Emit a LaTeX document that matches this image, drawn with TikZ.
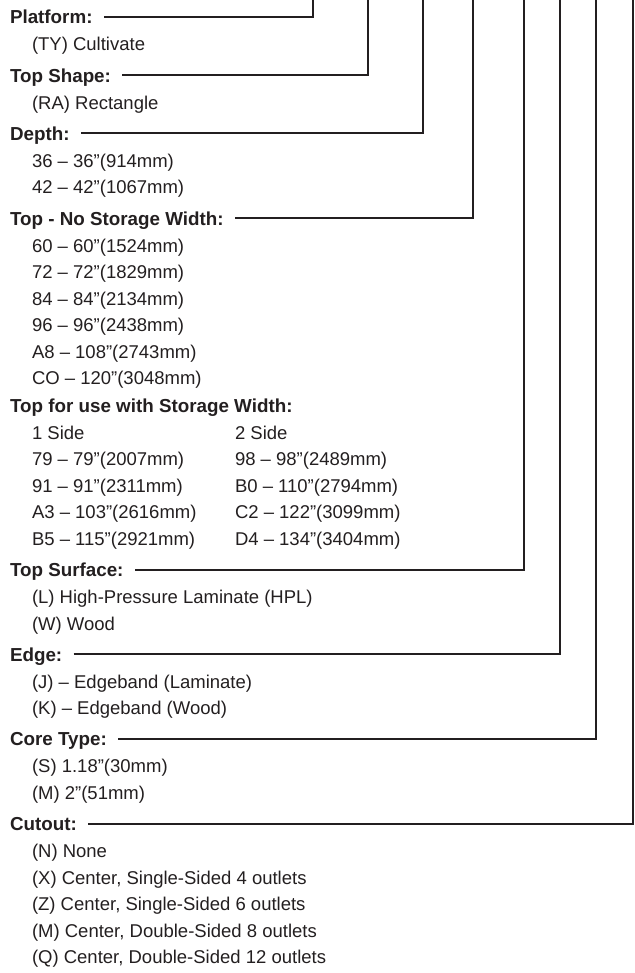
\documentclass[tikz,border=0pt]{standalone}
\usepackage{fontspec}
\setmainfont{Liberation Sans}
\usepackage{xcolor}
\usetikzlibrary{positioning}
\definecolor{ink}{HTML}{231F20}

\begin{document}
\begin{tikzpicture}[
  x=1pt, y=1pt,
  every node/.style={inner sep=0pt, outer sep=0pt, text=ink},
  hdr/.style={font=\fontsize{18.8}{20}\selectfont\bfseries, text height=14pt, text depth=0pt},
  sect/.style={hdr, below right=13.2pt and -22pt of #1.south west},
  opt/.style={font=\fontsize{18.5}{20}\selectfont, text height=13pt, text depth=4pt},
  optA/.style={opt, below right=14pt and 22pt of #1.south west},
  optB/.style={opt, below right=9.5pt and 0pt of #1.south west},
  lead/.style={draw=ink, line width=2pt, shorten <=11.5pt}
]
  \useasboundingbox (0,0) rectangle (634,-973);
  % tops of the leader lines
  \coordinate (topPlat)  at (313,0);
  \coordinate (topShape) at (368,0);
  \coordinate (topDepth) at (423,0);
  \coordinate (topWidth) at (473,0);
  \coordinate (topSurf)  at (524,0);
  \coordinate (topEdge)  at (560,0);
  \coordinate (topCore)  at (596,0);
  \coordinate (topCut)   at (632.5,0);
  % Sections
  \node[hdr, anchor=north west] (plat) at (10,-10) {Platform:};
  \node[optA=plat] (ty) {(TY) Cultivate};
  \node[sect=ty] (shape) {Top Shape:};
  \node[optA=shape] (ra) {(RA) Rectangle};
  \node[sect=ra] (depth) {Depth:};
  \node[optA=depth] (d36) {36 -- 36”(914mm)};
  \node[optB=d36] (d42) {42 -- 42”(1067mm)};
  \node[sect=d42] (width) {Top - No Storage Width:};
  \node[optA=width] (w60) {60 -- 60”(1524mm)};
  \node[optB=w60] (w72) {72 -- 72”(1829mm)};
  \node[optB=w72] (w84) {84 -- 84”(2134mm)};
  \node[optB=w84] (w96) {96 -- 96”(2438mm)};
  \node[optB=w96] (wA8) {A8 -- 108”(2743mm)};
  \node[optB=wA8] (wCO) {CO -- 120”(3048mm)};
  \node[sect=wCO, yshift=3.5pt] (stor) {Top for use with Storage Width:};
  \node[optA=stor] (one) {1 Side};
  \node[opt, right=203pt of one.west] (two) {2 Side};
  \node[optB=one] (s79) {79 -- 79”(2007mm)};
  \node[opt, right=203pt of s79.west] (s98) {98 -- 98”(2489mm)};
  \node[optB=s79] (s91) {91 -- 91”(2311mm)};
  \node[opt, right=203pt of s91.west] (sB0) {B0 -- 110”(2794mm)};
  \node[optB=s91] (sA3) {A3 -- 103”(2616mm)};
  \node[opt, right=203pt of sA3.west] (sC2) {C2 -- 122”(3099mm)};
  \node[optB=sA3] (sB5) {B5 -- 115”(2921mm)};
  \node[opt, right=203pt of sB5.west] (sD4) {D4 -- 134”(3404mm)};
  \node[sect=sB5] (surf) {Top Surface:};
  \node[optA=surf] (sL) {(L) High-Pressure Laminate (HPL)};
  \node[optB=sL] (sW) {(W) Wood};
  \node[sect=sW] (edge) {Edge:};
  \node[optA=edge] (eJ) {(J) -- Edgeband (Laminate)};
  \node[optB=eJ] (eK) {(K) -- Edgeband (Wood)};
  \node[sect=eK] (core) {Core Type:};
  \node[optA=core] (cS) {(S) 1.18”(30mm)};
  \node[optB=cS] (cM) {(M) 2”(51mm)};
  \node[sect=cM] (cut) {Cutout:};
  \node[optA=cut] (xN) {(N) None};
  \node[optB=xN] (xX) {(X) Center, Single-Sided 4 outlets};
  \node[optB=xX] (xZ) {(Z) Center, Single-Sided 6 outlets};
  \node[optB=xZ] (xM) {(M) Center, Double-Sided 8 outlets};
  \node[optB=xM] (xQ) {(Q) Center, Double-Sided 12 outlets};
  % Leaders
  \draw[lead] (plat.east)  -| (topPlat);
  \draw[lead] (shape.east) -| (topShape);
  \draw[lead] (depth.east) -| (topDepth);
  \draw[lead] (width.east) -| (topWidth);
  \draw[lead] (surf.east)  -| (topSurf);
  \draw[lead] (edge.east)  -| (topEdge);
  \draw[lead] (core.east)  -| (topCore);
  \draw[lead] (cut.east)   -| (topCut);
\end{tikzpicture}
\end{document}
